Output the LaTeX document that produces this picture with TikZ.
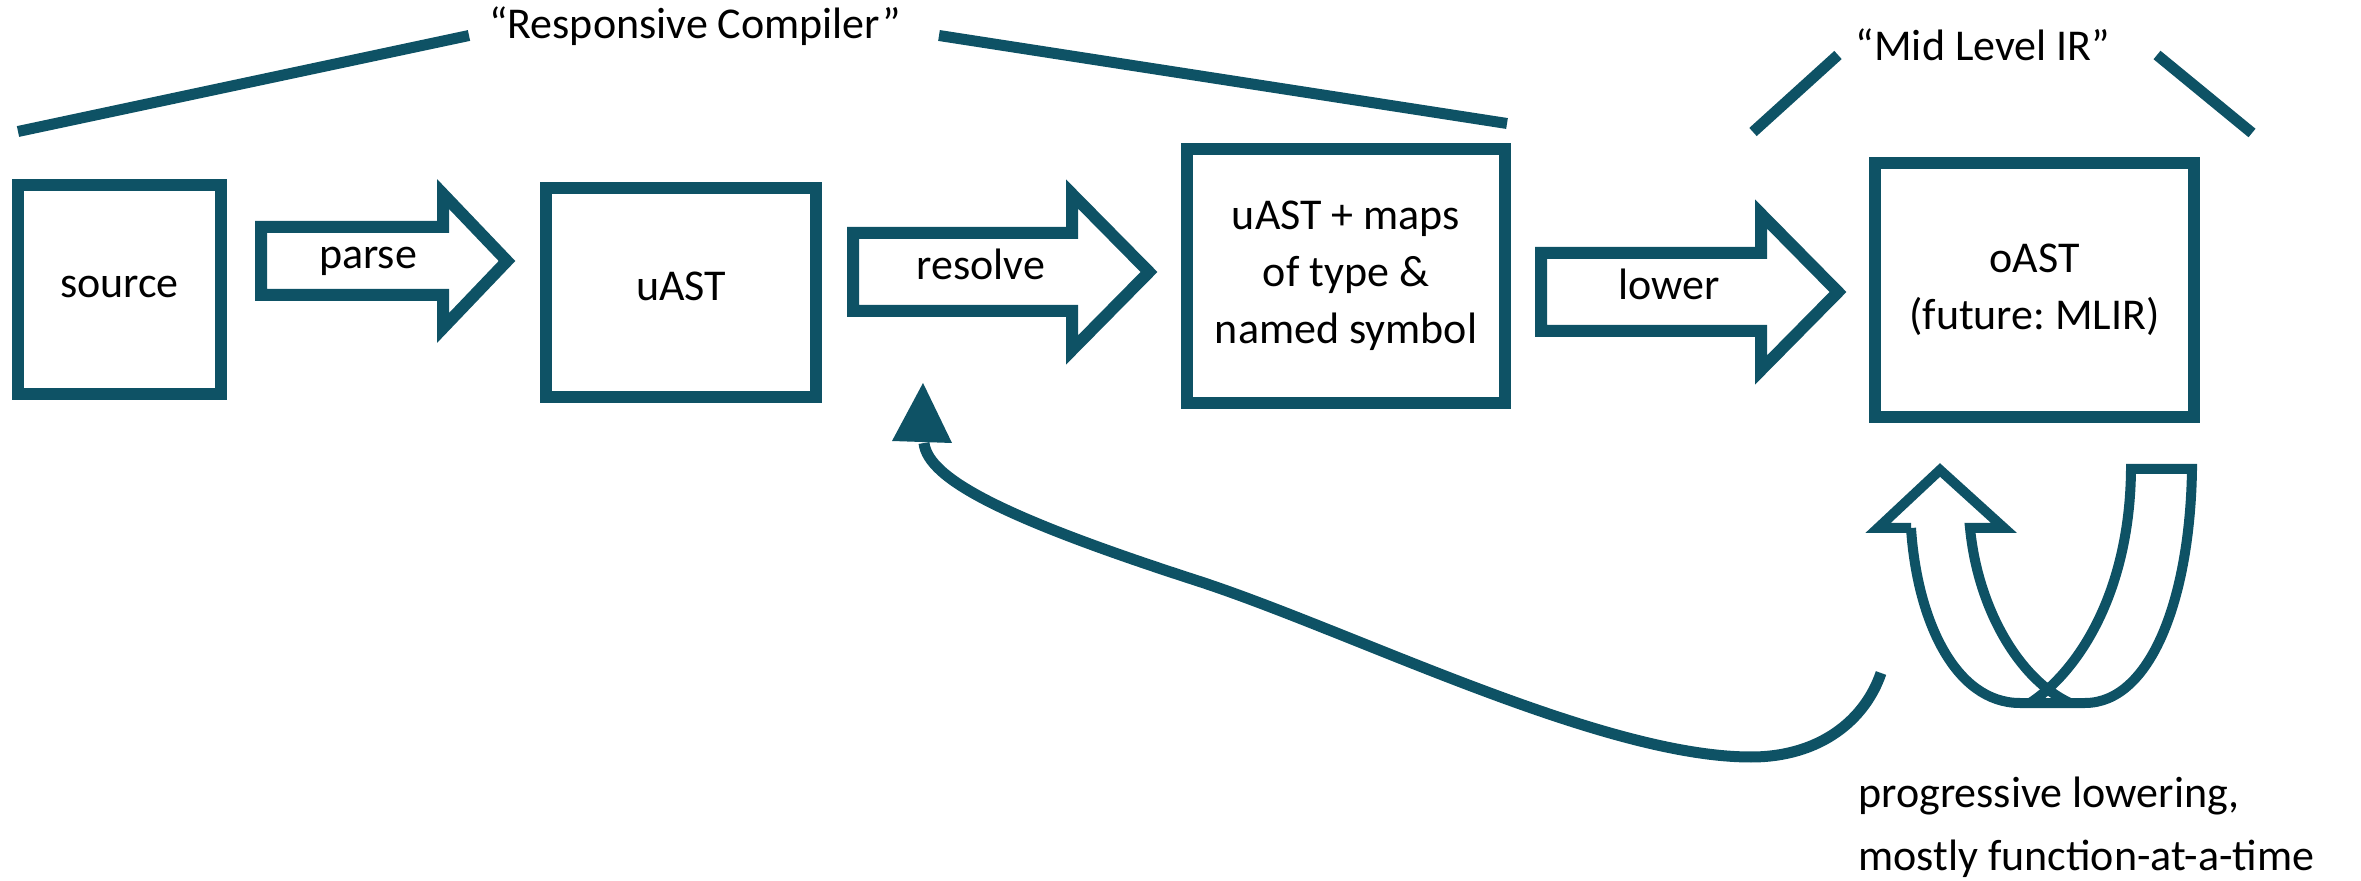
\documentclass[tikz,border=0pt]{standalone}
\usepackage{fontspec}
\setmainfont{Carlito}
\frenchspacing
\definecolor{hpeteal}{RGB}{14,82,101}
\tikzset{
  lbl/.style={font=\fontsize{22pt}{28.5pt}\selectfont, text=black, inner sep=0pt},
  one/.style={text height=14pt, text depth=6pt},
  box/.style={lbl, draw=hpeteal, line width=6pt, align=center},
  blockarr/.style={draw=hpeteal, line width=6pt, line join=miter},
  rib/.style={draw=hpeteal, line width=5pt, line join=miter},
  bracket/.style={draw=hpeteal, line width=5.5pt},
  feedback/.style={draw=hpeteal, line width=5.5pt}
}
\begin{document}
\begin{tikzpicture}[x=0.5pt,y=-0.5pt]
\useasboundingbox (0,0) rectangle (2361,881);

% boxes
\node[box, one, minimum width=101.5pt, minimum height=104.5pt] (source) at (119.5,289.5) {source};
\node[box, one, minimum width=135pt, minimum height=104.5pt] (uast) at (681,292.5) {uAST};
\node[box, minimum width=159pt, minimum height=127pt] (maps) at (1346,276) {uAST + maps\\of type \&\\named symbol};
\node[box, minimum width=159.5pt, minimum height=127pt] (oast) at (2034.5,290) {oAST\\(future: MLIR)};

% block arrows
\draw[blockarr] (261,227) -- (443,227) -- (443,194) -- (507,261) -- (443,328) -- (443,295) -- (261,295) -- cycle;
\node[lbl, one] (parse) at (368,261) {parse};
\draw[blockarr] (853,233) -- (1072,233) -- (1072,194) -- (1149,272) -- (1072,350) -- (1072,311) -- (853,311) -- cycle;
\node[lbl, one] (resolve) at (981,272) {resolve};
\draw[blockarr] (1541,253) -- (1761,253) -- (1761,214) -- (1838,292) -- (1761,370) -- (1761,331) -- (1541,331) -- cycle;
\node[lbl, one] (lower) at (1669,292) {lower};

% headings with brackets
\node[lbl, anchor=base] (rc) at (695,39) {“Responsive Compiler”};
\draw[bracket] (18,131.5) -- (469,35.5);
\draw[bracket] (939,35.5) -- (1507,123.5);
\node[lbl, anchor=base] (ml) at (1983,61) {“Mid Level IR”};
\draw[bracket] (1753,132) -- (1838,55);
\draw[bracket] (2157,55) -- (2252,133);

% progressive lowering loop (hollow arrow)
\draw[rib] (1911,528) .. controls (1917,620) and (1955,703) .. (2020,703) -- (2085,703)
  .. controls (2150,703) and (2190,600) .. (2192,469) -- (2131,469)
  .. controls (2130,590) and (2080,670) .. (2030,703);
\draw[rib] (1911,528) -- (1878,528) -- (1940,470) -- (2004,528) -- (1970,528)
  .. controls (1978,610) and (2020,680) .. (2070,703);

% feedback arrow
\coordinate (fbstart) at (1881,673);
\coordinate (fbbase) at (924,443);
\coordinate (fbtip) at (923,383);
\draw[feedback] (fbstart) .. controls (1865,720) and (1820,757) .. (1751,757)
  .. controls (1600,757) and (1350,630) .. (1195,580)
  .. controls (1010,520) and (928,480) .. (fbbase);
\fill[hpeteal] (fbtip) -- (952,443) -- (892,441) -- cycle;

% caption
\node[lbl, font=\fontsize{22pt}{31.5pt}\selectfont, anchor=base west, align=left] (cap) at (1858,870) {progressive lowering,\\mostly function-at-a-time};
\end{tikzpicture}
\end{document}
